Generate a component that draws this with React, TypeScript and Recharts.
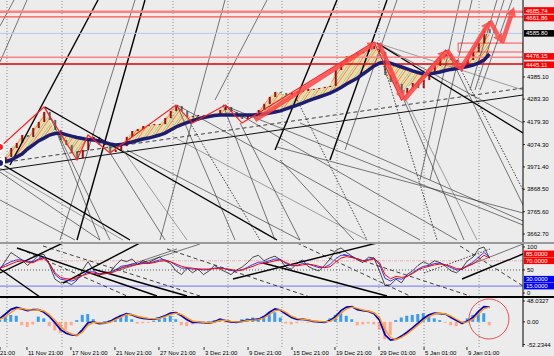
import React from "react";
import {
  ComposedChart,
  Line,
  Bar,
  Area,
  XAxis,
  YAxis,
  ReferenceLine,
  ReferenceArea,
  ReferenceDot,
  Cell,
} from "recharts";

// one slot = one sampled bar of the H4 chart
const closes = [
  4003, 4017, 4058, 4081, 4118, 4109, 4150, 4178, 4224, 4187,
  4141, 4095, 4072, 4040, 4012, 4049, 4095, 4109, 4072, 4081,
  4040, 4049, 4067, 4109, 4136, 4145, 4159, 4164, 4168, 4168,
  4196, 4228, 4251, 4228, 4201, 4205, 4210, 4205, 4210, 4215,
  4233, 4247, 4224, 4201, 4192, 4210, 4215, 4233, 4261, 4293,
  4316, 4311, 4302, 4311, 4316, 4321, 4330, 4330, 4334, 4339,
  4344, 4417, 4454, 4481, 4486, 4495, 4500, 4514, 4527, 4500,
  4394, 4362, 4353, 4311, 4334, 4357, 4334, 4371, 4403, 4436,
  4477, 4491, 4463, 4445, 4431, 4463, 4500, 4541, 4605, 4586,
];

const slowMa = [
  3989, 3996, 4003, 4017, 4031, 4054, 4072, 4091, 4104, 4118,
  4125, 4127, 4120, 4113, 4107, 4102, 4097, 4095, 4091, 4084,
  4077, 4072, 4074, 4081, 4086, 4093, 4100, 4104, 4111, 4118,
  4127, 4141, 4155, 4166, 4175, 4184, 4192, 4199, 4203, 4208,
  4210, 4210, 4210, 4210, 4210, 4210, 4210, 4212, 4215, 4219,
  4224, 4229, 4238, 4247, 4256, 4265, 4275, 4284, 4293, 4302,
  4311, 4323, 4337, 4353, 4367, 4380, 4399, 4417, 4436, 4449,
  4454, 4449, 4440, 4431, 4422, 4413, 4406, 4399, 4399, 4403,
  4408, 4415, 4420, 4424, 4429, 4433, 4440, 4449, 4463, 4491,
];

const zigzag: [number, number][] = [
  [0, 4063], [8, 4247], [14, 4003], [16, 4118], [20, 4035], [32, 4256],
  [35, 4173], [41, 4256], [44, 4173], [68, 4546], [73, 4279], [81, 4509],
  [84, 4417], [89, 4643],
];

const arrows: [number, number, number, number][] = [
  [46.36, 4187, 68.5, 4546],
  [68.9, 4541, 73.45, 4279],
  [73.45, 4279, 81.27, 4509],
  [81.27, 4509, 83.64, 4417],
  [83.64, 4417, 89.09, 4643],
  [89.09, 4643, 91.27, 4541],
  [91.27, 4541, 93.45, 4707],
];

const priceTicks = [4385.1, 4283.3, 4179.3, 4074.3, 3971.4, 3868.5, 3765.6, 3662.7];
const priceLevels = [4685.74, 4661.86, 4585.8, 4476.15, 4445.11];
const targetBox = [83.3, 4500, 95.09, 4541];

type Kind = "thick" | "thin" | "dash" | "dot" | "gray" | "solid";

const priceLines: [number, number, number, number, Kind][] = [
  [0, 4619.7, 2.55, 4739.3, "thin"],
  [0, 4454.1, 4.91, 4739.3, "thin"],
  [1.82, 3980.2, 17.82, 4739.3, "thick"],
  [10.91, 3635.1, 24.55, 4739.3, "thin"],
  [14, 3635.1, 26.36, 4739.3, "thick"],
  [29.09, 3635.1, 40.91, 4739.3, "thin"],
  [39.09, 4279.2, 48.55, 4739.3, "thin"],
  [50, 4049.2, 61.27, 4739.3, "thick"],
  [60, 4003.2, 70.36, 4739.3, "thick"],
  [62.73, 4049.2, 72.18, 4739.3, "thin"],
  [76.36, 3911.2, 83.64, 4739.3, "thin"],
  [78.18, 3911.2, 85.82, 4739.3, "thin"],
  [85.45, 4325.2, 90.36, 4739.3, "thin"],
  [86.36, 4325.2, 91.64, 4739.3, "thin"],
  [87.27, 4325.2, 93.09, 4739.3, "thin"],
  [8.18, 4247.0, 50.36, 3635.1, "thick"],
  [0, 3989.4, 23.64, 3635.1, "thick"],
  [0, 3948.0, 18.18, 3635.1, "thin"],
  [0, 3819.1, 13.64, 3635.1, "thin"],
  [0, 3966.4, 22.36, 3635.1, "gray"],
  [23.09, 4049.2, 54.55, 3635.1, "thin"],
  [32.18, 4256.2, 76.36, 3635.1, "thin"],
  [40.55, 4256.2, 83.09, 3635.1, "thin"],
  [40.55, 4256.2, 95.09, 3704.1, "thin"],
  [54.55, 4173.4, 95.09, 3722.5, "thin"],
  [32.18, 4101.0, 66.73, 3635.1, "gray"],
  [68.55, 4541.5, 95.09, 4127.4, "thick"],
  [68.55, 4541.5, 95.09, 4173.4, "thin"],
  [68.55, 4541.5, 95.09, 4325.2, "gray"],
  [0, 3989.4, 95.09, 4334.4, "dash"],
  [0, 3957.2, 95.09, 4302.2, "solid"],
  [50.36, 4063.0, 95.09, 3759.3, "thin"],
  [8.18, 4247.0, 20, 3635.1, "thin"],
  [10.36, 4127.4, 18.18, 3635.1, "thin"],
  [20, 4035.4, 30, 3635.1, "thin"],
  [22.36, 4049.2, 34, 3635.1, "gray"],
  [32.18, 4256.2, 42.73, 3635.1, "thin"],
  [34.55, 4173.4, 47.27, 3635.1, "dot"],
  [40.55, 4256.2, 50, 3635.1, "thin"],
  [43.64, 4173.4, 54.55, 3635.1, "thin"],
  [54, 4279.2, 66.73, 3635.1, "dot"],
  [68.55, 4541.5, 79.45, 3635.1, "dot"],
  [68.55, 4541.5, 86.73, 3635.1, "gray"],
  [73.45, 4279.2, 84.36, 3635.1, "thin"],
  [81.27, 4509.3, 95.09, 3796.1, "thin"],
  [83.64, 4426.5, 95.09, 3865.1, "dot"],
  [50.91, 4003.2, 64.36, 3635.1, "thin"],
];

// RSI window
const rsiFast = [
  52, 70, 88, 80, 72, 60, 70, 82, 84, 60,
  30, 22, 24, 18, 28, 50, 68, 50, 38, 46,
  44, 60, 72, 68, 74, 62, 70, 66, 72, 78,
  70, 64, 48, 40, 54, 44, 52, 40, 48, 60,
  52, 46, 40, 50, 56, 66, 78, 82, 70, 76,
  80, 72, 56, 52, 64, 72, 58, 52, 48, 60,
  74, 92, 98, 88, 80, 72, 66, 78, 76, 48,
  16, 18, 30, 22, 40, 48, 60, 68, 62, 70,
  66, 58, 48, 44, 54, 70, 78, 96, 100, 76,
];
const rsiMid = [
  55, 62, 68, 72, 72, 68, 68, 74, 78, 64,
  40, 30, 28, 26, 30, 38, 46, 46, 42, 42,
  43, 50, 58, 60, 63, 63, 66, 65, 68, 72,
  72, 68, 60, 54, 54, 52, 52, 50, 51, 54,
  55, 52, 49, 48, 50, 56, 62, 67, 67, 70,
  74, 73, 64, 59, 60, 64, 63, 59, 55, 56,
  62, 74, 82, 82, 79, 74, 70, 73, 76, 62,
  32, 26, 32, 30, 36, 44, 52, 58, 60, 64,
  65, 61, 55, 50, 51, 60, 67, 78, 88, 78,
];
const rsiSlow = [
  54, 58, 63, 68, 70, 67, 66, 72, 75, 64,
  44, 34, 31, 30, 33, 38, 42, 43, 41, 42,
  43, 47, 54, 57, 60, 62, 64, 64, 66, 69,
  70, 68, 63, 58, 55, 54, 52, 52, 52, 53,
  54, 53, 51, 49, 50, 54, 58, 63, 65, 67,
  70, 72, 66, 61, 59, 61, 63, 61, 58, 55,
  57, 67, 76, 79, 77, 74, 70, 71, 74, 66,
  40, 31, 36, 34, 36, 42, 50, 55, 58, 61,
  63, 61, 58, 53, 52, 58, 63, 72, 82, 76,
];
const rsiBoxes = [85, 70, 30, 15];
const rsiPlain = [100, 50, 0];

const rsiLines: [number, number, number, number, Kind][] = [
  [3.09, 97.8, 28.55, -6.5, "thick"],
  [0, 52.2, 7.27, -8.7, "thick"],
  [0, 43.5, 11.45, 108.7, "thick"],
  [11.45, 21.7, 25.45, 108.7, "thick"],
  [17.64, 37, 32.18, 95.7, "thin"],
  [42.36, 30.4, 68.55, 108.7, "thick"],
  [16.91, 52.2, 34, -6.5, "thick"],
  [47.82, 65.2, 70.36, -6.5, "thick"],
  [3.64, 95.7, 23.09, -6.5, "dash"],
  [7.82, 102.2, 36.36, -6.5, "dash"],
  [30.36, 95.7, 56.36, -8.7, "dash"],
  [54, 108.7, 74.55, -6.5, "dash"],
  [83.64, 102.2, 95.09, 15.2, "dash"],
  [84, 30.4, 95.09, 84.8, "thick"],
  [84, 54.3, 95.09, 106.5, "thin"],
  [77.09, 43.5, 89.09, 95.7, "dot"],
  [21.82, 50, 36.36, 106.5, "thin"],
  [60, 93.5, 85.45, -6.5, "dash"],
];

// MACD window
const macdMain = [
  8, 18, 29, 33, 30, 26, 28, 28, 22, 12,
  -2, -18, -26, -30, -31, -18, -2, 0, -4, -3,
  1, 8, 14, 19, 16, 11, 8, 7, 6, 9,
  14, 20, 21, 14, 5, -1, -1, -2, -3, 0,
  6, 3, 0, -1, 1, 4, 5, 6, 12, 22,
  30, 27, 18, 10, 6, 6, 4, 1, 0, -1,
  3, 12, 26, 34, 35, 28, 26, 24, 19, 4,
  -30, -42, -40, -33, -24, -14, -3, 8, 16, 20,
  19, 18, 10, 3, -3, 2, 10, 24, 35, 34,
];
const macdSignal = [
  6, 12, 22, 30, 31, 28, 27, 28, 25, 16,
  4, -10, -22, -28, -31, -24, -8, -1, -2, -3,
  -1, 5, 11, 17, 17, 13, 10, 8, 7, 8,
  12, 17, 20, 17, 9, 2, 0, -1, -2, -1,
  3, 4, 1, 0, 0, 3, 4, 5, 9, 17,
  26, 28, 22, 13, 8, 6, 5, 2, 1, 0,
  1, 8, 20, 30, 34, 31, 27, 25, 21, 10,
  -18, -36, -41, -36, -28, -18, -8, 3, 12, 18,
  20, 18, 13, 6, -1, 0, 6, 18, 30, 34,
];
const macdHist = [
  4, 12, 16, 14, -8, -12, -6, 12, 8, -10,
  -20, -26, -18, -8, 4, 16, 18, 6, -4, 2,
  4, 8, 16, 18, 6, -4, -3, -2, 2, 6,
  10, 14, 6, -8, -10, -6, -2, -1, 2, 4,
  6, -2, -3, 2, 6, 8, 10, 8, 14, 20,
  22, 10, -4, -6, -3, -1, -2, -2, -1, 2,
  8, 16, 20, 14, 6, -8, -6, -4, -6, -18,
  -40, -30, 4, 10, 14, 16, 18, 20, 12, 8,
  4, -2, -8, -10, -6, 8, 16, 22, 20, -8,
];
const macdTicks = [48.0327, 0, -52.2344];
const macdTickText = ["48.0327", "0.00", "-52.2344"];
const circleAt = [88.9, 6.6];

const timeTicks = [0, 4.9, 12.9, 20.9, 28.9, 37.1, 45.1, 53.1, 60.9, 68.9, 77.1, 84.9];
const timeLabels = [
  "21:00", "11 Nov 21:00", "17 Nov 21:00", "21 Nov 21:00", "27 Nov 21:00",
  "3 Dec 21:00", "9 Dec 21:00", "15 Dec 21:00", "19 Dec 21:00",
  "29 Dec 01:00", "5 Jan 01:00", "9 Jan 01:00",
];
const separators = [1.27, 11.27, 31.45, 41.45, 51.27, 61.27, 68.9, 77.1, 87.1];

// ---------------------------------------------------------------
const W = 554;
const AXIS_X = 523;
const X_DOMAIN: [number, number] = [0, 95.09];
const FONT = "'Liberation Sans', Arial, sans-serif";
const BG = "#ececec";

const lineStyle: Record<Kind, any> = {
  thick: { stroke: "#000", strokeWidth: 1.4 },
  solid: { stroke: "#111", strokeWidth: 1 },
  thin: { stroke: "#222", strokeWidth: 0.6 },
  gray: { stroke: "#666", strokeWidth: 0.6 },
  dash: { stroke: "#111", strokeWidth: 0.8, strokeDasharray: "4 3" },
  dot: { stroke: "#111", strokeWidth: 0.8, strokeDasharray: "1.5 1.5" },
};

const levelLook = [
  { line: "#ff8080", w: 2.5, box: "#ff0000", nudge: -1.2 },
  { line: "#ff5050", w: 1.3, box: "#ff0000", nudge: 1.2 },
  { line: "#b4c8ec", w: 1, box: "#000000", nudge: 0 },
  { line: "#ff8080", w: 1.5, box: "#ff0000", nudge: -0.8 },
  { line: "#e00000", w: 1.5, box: "#ff0000", nudge: 0.8 },
];

const rows = closes.map((c, i) => {
  const o = i === 0 ? c : closes[i - 1];
  return {
    i,
    open: o,
    close: c,
    ma: slowMa[i],
    body: [Math.min(o, c), Math.max(o, c) + 0.5],
    band: [slowMa[i], c],
    rf: rsiFast[i],
    rm: rsiMid[i],
    rs: rsiSlow[i],
    macd: macdMain[i],
    sig: macdSignal[i],
    hist: macdHist[i],
  };
});
const zzRows = zigzag.map(([i, p]) => ({ i, p }));

function Candle(props: any) {
  const { x, y, width, height, payload } = props;
  const up = payload.close >= payload.open;
  return (
    <rect x={x} y={y} width={width} height={Math.max(height, 1)} fill={up ? "#9a1010" : "#4d6b6c"} />
  );
}

function ArrowShape(props: any) {
  const { x1, y1, x2, y2 } = props;
  const a = Math.atan2(y2 - y1, x2 - x1);
  const head = 9;
  const half = 5;
  const bx = x2 - head * Math.cos(a);
  const by = y2 - head * Math.sin(a);
  const px = -Math.sin(a) * half;
  const py = Math.cos(a) * half;
  return (
    <g opacity={0.85}>
      <line x1={x1} y1={y1} x2={bx} y2={by} stroke="#ff4545" strokeWidth={4.5} />
      <polygon points={`${x2},${y2} ${bx + px},${by + py} ${bx - px},${by - py}`} fill="#ff4545" />
    </g>
  );
}

function Box({ y, text, fill }: { y: number; text: string; fill: string }) {
  return (
    <g>
      <rect x={AXIS_X + 1} y={y - 3.3} width={30} height={6.6} fill={fill} />
      <text x={AXIS_X + 3} y={y + 2.1} fontSize={6} fill="#fff">
        {text}
      </text>
    </g>
  );
}

function Plain({ y, text }: { y: number; text: string }) {
  return (
    <g>
      <line x1={AXIS_X} x2={AXIS_X + 2} y1={y} y2={y} stroke="#000" strokeWidth={0.8} />
      <text x={AXIS_X + 4} y={y + 2.1} fontSize={6} fill="#000">
        {text}
      </text>
    </g>
  );
}

function PriceTick({ y, payload }: any) {
  const v = payload.value;
  const li = priceLevels.indexOf(v);
  if (li >= 0) return <Box y={y + levelLook[li].nudge} text={v.toFixed(2)} fill={levelLook[li].box} />;
  return <Plain y={y} text={v.toFixed(2)} />;
}

function RsiTick({ y, payload }: any) {
  const v = payload.value;
  if (rsiBoxes.includes(v)) return <Box y={y} text={v.toFixed(4)} fill={v > 50 ? "#ff0000" : "#0000ff"} />;
  return <Plain y={y} text={String(v)} />;
}

function MacdTick({ y, payload }: any) {
  const k = macdTicks.indexOf(payload.value);
  return <Plain y={y} text={macdTickText[k]} />;
}

function TimeTick({ x, payload }: any) {
  const k = timeTicks.indexOf(payload.value);
  return (
    <g>
      <line x1={x} x2={x} y1={49} y2={52} stroke="#000" strokeWidth={0.8} />
      <text x={k === 0 ? x : x + 1} y={56.5} fontSize={6} fill="#000">
        {timeLabels[k]}
      </text>
    </g>
  );
}

const sepLines = (key: string) =>
  separators.map((s) => (
    <ReferenceLine key={key + s} x={s} stroke="#777" strokeDasharray="1 2" strokeWidth={0.8} />
  ));

const segLines = (list: [number, number, number, number, Kind][], key: string) =>
  list.map(([a, b, c, d, k], n) => (
    <ReferenceLine
      key={key + n}
      segment={[{ x: a, y: b }, { x: c, y: d }]}
      ifOverflow="hidden"
      {...lineStyle[k]}
    />
  ));

export default function App() {
  return (
    <div
      style={{
        position: "absolute",
        left: 0,
        top: 0,
        width: W,
        height: 356,
        background: BG,
        overflow: "hidden",
        fontFamily: FONT,
      }}
    >
      {/* price window */}
      <div style={{ position: "absolute", left: 0, top: 0 }}>
        <ComposedChart width={W} height={242} data={rows} margin={{ top: 0, right: 0, bottom: 0, left: 0 }}>
          <defs>
            <pattern id="fanHatch" width="6" height="6" patternUnits="userSpaceOnUse" patternTransform="rotate(35)">
              <rect width="6" height="6" fill="#f7d3a8" opacity="0.4" />
              <line x1="0.5" y1="0" x2="0.5" y2="6" stroke="#ff7a30" strokeWidth="1" />
              <line x1="2.5" y1="0" x2="2.5" y2="6" stroke="#ffc83a" strokeWidth="0.8" />
              <line x1="4.5" y1="0" x2="4.5" y2="6" stroke="#5cc85c" strokeWidth="0.7" />
            </pattern>
          </defs>
          <XAxis type="number" dataKey="i" domain={X_DOMAIN} hide allowDataOverflow />
          <YAxis
            orientation="right"
            width={31}
            domain={[3625.9, 4739.3]}
            allowDataOverflow
            ticks={[...priceTicks, ...priceLevels]}
            interval={0}
            tick={<PriceTick />}
            tickLine={false}
            axisLine={{ stroke: "#000" }}
          />
          {sepLines("p")}
          {segLines(priceLines, "pl")}
          {priceLevels.map((v, n) => (
            <ReferenceLine key={"lv" + n} y={v} stroke={levelLook[n].line} strokeWidth={levelLook[n].w} />
          ))}
          <Area dataKey="band" stroke="none" fill="url(#fanHatch)" fillOpacity={0.9} isAnimationActive={false} />
          <Bar dataKey="body" barSize={2} shape={<Candle />} isAnimationActive={false} />
          <Line dataKey="ma" stroke="#1c1c70" strokeWidth={3.5} dot={false} isAnimationActive={false} />
          <Line
            data={zzRows}
            dataKey="p"
            stroke="#ff2020"
            strokeWidth={1.2}
            dot={false}
            isAnimationActive={false}
          />
          <ReferenceArea
            x1={targetBox[0]}
            y1={targetBox[1]}
            x2={targetBox[2]}
            y2={targetBox[3]}
            fill="none"
            stroke="#ff5050"
            strokeWidth={1}
            ifOverflow="hidden"
          />
          {arrows.map(([a, b, c, d], n) => (
            <ReferenceLine
              key={"ar" + n}
              segment={[{ x: a, y: b }, { x: c, y: d }]}
              ifOverflow="visible"
              shape={(p: any) => <ArrowShape {...p} />}
            />
          ))}
        </ComposedChart>
      </div>

      <div style={{ position: "absolute", left: 0, top: 242, width: W, height: 2, background: "#9a9a9a" }} />

      {/* RSI window */}
      <div style={{ position: "absolute", left: 0, top: 244 }}>
        <ComposedChart width={W} height={53} data={rows} margin={{ top: 0, right: 0, bottom: 0, left: 0 }}>
          <XAxis type="number" dataKey="i" domain={X_DOMAIN} hide allowDataOverflow />
          <YAxis
            orientation="right"
            width={31}
            domain={[-8.7, 106.5]}
            allowDataOverflow
            ticks={[...rsiPlain, ...rsiBoxes]}
            interval={0}
            tick={<RsiTick />}
            tickLine={false}
            axisLine={{ stroke: "#000" }}
          />
          {sepLines("r")}
          <ReferenceLine y={70} stroke="#e6a0a0" strokeDasharray="3 1 1 1" strokeWidth={0.8} />
          <ReferenceLine y={50} stroke="#333" strokeDasharray="1 2" strokeWidth={0.8} />
          <ReferenceLine y={15} stroke="#7070ff" strokeWidth={1} />
          {segLines(rsiLines, "rl")}
          <Line dataKey="rf" stroke="#000" strokeWidth={0.7} dot={false} isAnimationActive={false} />
          <Line dataKey="rm" stroke="#2020ff" strokeWidth={0.9} dot={false} isAnimationActive={false} />
          <Line dataKey="rs" stroke="#ff0000" strokeWidth={1} dot={false} isAnimationActive={false} />
        </ComposedChart>
      </div>

      <div style={{ position: "absolute", left: 0, top: 296, width: W, height: 2, background: "#000" }} />

      {/* MACD window */}
      <div style={{ position: "absolute", left: 0, top: 298 }}>
        <ComposedChart width={W} height={58} data={rows} margin={{ top: 0, right: 0, bottom: 0, left: 0 }}>
          <XAxis
            type="number"
            dataKey="i"
            domain={X_DOMAIN}
            allowDataOverflow
            height={9}
            ticks={timeTicks}
            interval={0}
            tick={<TimeTick />}
            tickLine={false}
            axisLine={false}
          />
          <YAxis
            orientation="right"
            width={31}
            domain={[-58, 55]}
            allowDataOverflow
            ticks={macdTicks}
            interval={0}
            tick={<MacdTick />}
            tickLine={false}
            axisLine={{ stroke: "#000" }}
          />
          {sepLines("m")}
          <Bar dataKey="hist" barSize={3} isAnimationActive={false}>
            {rows.map((r) => (
              <Cell key={r.i} fill={r.hist >= 0 ? "#3a9cf0" : "#ffa98a"} />
            ))}
          </Bar>
          <Line dataKey="macd" stroke="#0000cc" strokeWidth={1.8} dot={false} isAnimationActive={false} />
          <Line dataKey="sig" stroke="#ff9a10" strokeWidth={1.4} dot={false} isAnimationActive={false} />
          <ReferenceDot
            x={circleAt[0]}
            y={circleAt[1]}
            r={20}
            fill="none"
            stroke="#e85050"
            strokeWidth={1}
            ifOverflow="visible"
          />
        </ComposedChart>
      </div>
    </div>
  );
}
